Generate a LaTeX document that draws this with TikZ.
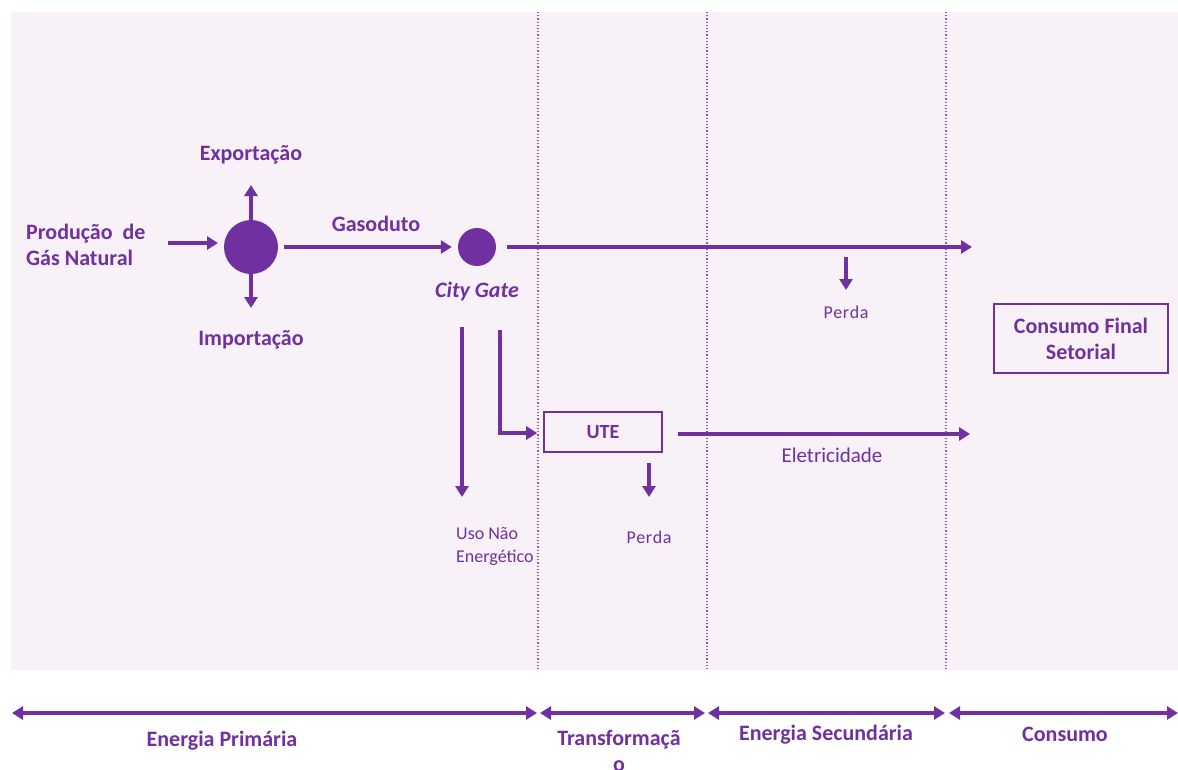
\documentclass[tikz,border=0pt]{standalone}
\usepackage{fontspec}
\setmainfont{Carlito}
\usetikzlibrary{arrows.meta}
\definecolor{roxo}{HTML}{7030A0}
\definecolor{fundo}{HTML}{F8F2F8}
\begin{document}
\begin{tikzpicture}[x=1pt,y=-1pt,
  flow/.style={draw=roxo,line width=3.8pt,-{Triangle[length=11pt,width=13pt]}},
  span/.style={draw=roxo,line width=3.8pt,{Triangle[length=11pt,width=13pt]}-{Triangle[length=11pt,width=13pt]}},
  sep/.style={draw=roxo!80,line width=1.2pt,dotted},
  lbl/.style={text=roxo,font=\fontsize{22}{26}\selectfont\bfseries,inner sep=0pt},
  small/.style={text=roxo,font=\fontsize{18}{23}\selectfont,inner sep=0pt},
  boxn/.style={draw=roxo,line width=1.6pt,text=roxo,font=\fontsize{22}{26}\selectfont\bfseries,align=center},
  hub/.style={circle,fill=roxo,inner sep=0pt}]
\useasboundingbox (0,0) rectangle (1178,769);
\fill[white] (0,0) rectangle (1178,769);
\fill[fundo] (11,12) rectangle (1178,670);

% stage separators
\foreach \xx in {538,707,946}
  \draw[sep] (\xx,12) -- (\xx,670);

% primary energy
\node[lbl,align=left,anchor=west] (prod) at (26,245) {Produção\ \ de\\Gás Natural};
\node[hub,minimum size=54pt] (hub1) at (251,247) {};
\node[lbl] (exp) at (251,155) {Exportação};
\node[lbl] (imp) at (251,340) {Importação};
\node[hub,minimum size=38pt] (gate) at (477,247) {};
\node[lbl,font=\fontsize{22}{26}\selectfont\bfseries\itshape] (gatelbl) at (477,292) {City Gate};
\node[lbl] (gasod) at (376,224) {Gasoduto};

\coordinate (prodend) at (168,243);
\coordinate (hubin) at (218,243);
\coordinate (expend) at (251,185);
\coordinate (impend) at (251,308);
\draw[flow] (prodend) -- (hubin);
\draw[flow] ([yshift=-4pt]hub1.north) -- (expend);
\draw[flow] ([yshift=4pt]hub1.south) -- (impend);
\draw[flow] ([xshift=6pt]hub1.east) -- ([xshift=-6pt]gate.west);

% consumption
\node[boxn,minimum width=174pt,minimum height=69pt] (cfs) at (1081,338.5) {Consumo Final\\Setorial};
\coordinate (gasend) at (972,247);
\draw[flow] ([xshift=11pt]gate.east) -- (gasend);
\node[small] (perda1) at (846,312) {P\kern0.6pt e\kern0.6pt r\kern0.6pt d\kern0.6pt a};
\draw[flow] (846,257) -- (846,290);

% non-energy use
\node[small,align=left,anchor=north west] (uso) at (456,527) {Uso Não\\Energético};
\draw[flow] (462,327) -- (462,497);

% thermal plant
\node[boxn,minimum width=118pt,minimum height=40pt,font=\fontsize{20}{24}\selectfont\bfseries] (ute) at (603,432) {UTE};
\draw[flow] (500,330) -- (500,433) -- ([xshift=-6pt]ute.west |- 0,433);
\coordinate (eletend) at (970,434);
\draw[flow] ([xshift=15pt]ute.east |- 0,434) -- (eletend);
\node[small,font=\fontsize{21}{25}\selectfont] (elet) at (832,455) {Eletricidade};
\node[small] (perda2) at (649,537) {P\kern0.6pt e\kern0.6pt r\kern0.6pt d\kern0.6pt a};
\draw[flow] (649,463) -- (649,497);

% stage spans
\coordinate (a0) at (12,713);
\coordinate (a1) at (537,713);
\coordinate (b0) at (540,713);
\coordinate (b1) at (705,713);
\coordinate (c0) at (708,713);
\coordinate (c1) at (945,713);
\coordinate (d0) at (949,713);
\coordinate (d1) at (1178,713);
\draw[span] (a0) -- (a1);
\draw[span] (b0) -- (b1);
\draw[span] (c0) -- (c1);
\draw[span] (d0) -- (d1);
\node[lbl] (ep) at (222,741) {Energia Primária};
\node[lbl,align=center,font=\fontsize{22}{26}\selectfont\bfseries] (tr) at (619,751) {Transformaçã\\o};
\node[lbl] (es) at (826,735) {Energia Secundária};
\node[lbl] (co) at (1065,734) {Consumo};
\end{tikzpicture}
\end{document}
